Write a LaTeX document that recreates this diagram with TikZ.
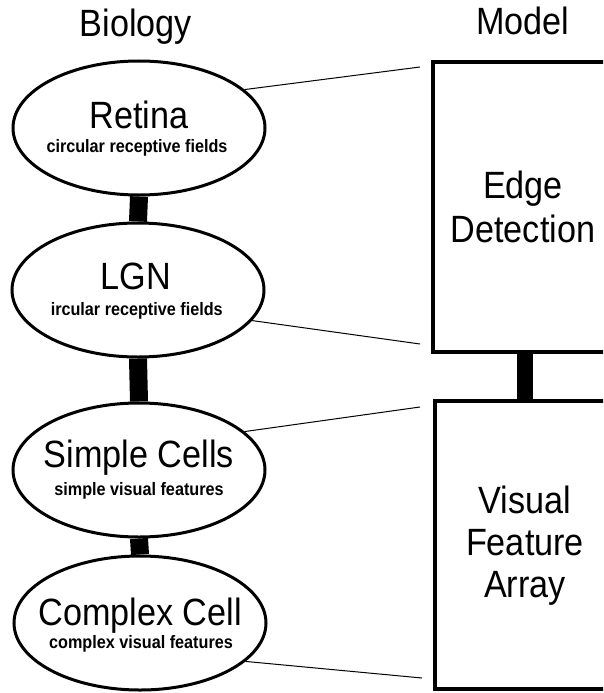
\documentclass[tikz,border=0pt]{standalone}
\usepackage{fontspec}
\setmainfont{Liberation Sans}[FakeStretch=0.9]
\usetikzlibrary{shapes.geometric}
\begin{document}
\begin{tikzpicture}[x=1pt,y=-1pt,
  bio/.style={draw=black,line width=3pt,ellipse,minimum width=252pt,minimum height=134pt,inner sep=0pt},
  modelbox/.style={draw=black,line width=4pt},
  big/.style={font=\fontsize{38}{42}\selectfont,anchor=base,inner sep=0pt},
  small/.style={font=\bfseries\fontsize{18}{20}\selectfont,anchor=base,inner sep=0pt},
  bar/.style={line width=18pt,draw=black},
  boxbar/.style={line width=16pt,draw=black},
  thin/.style={line width=1pt,draw=black}]
\useasboundingbox (0,0) rectangle (603,693);
\clip (0,0) rectangle (603,693);
\fill[white] (0,0) rectangle (603,693);

% titles
\node[big] (tbio) at (136,37) {Biology};
\node[big] (tmod) at (523,35) {Model};

% ellipses
\node[bio] (ret) at (139,128) {};
\node[bio] (lgn) at (138,290) {};
\node[bio] (sim) at (139,470) {};
\node[bio] (cpx) at (140,623) {};

\node[big] (retT) at (139,128) {Retina};
\node[small] (retS) at (137,152) {circular receptive fields};
\node[big] (lgnT) at (136,289) {LGN};
\node[small] (lgnS) at (139,315) {\hspace*{-0.25em}ircular receptive fields};
\node[big] (simT) at (139,467) {Simple Cells};
\node[small] (simS) at (139,495) {simple visual features};
\node[big] (cpxT) at (140,625) {Complex Cell};
\node[small] (cpxS) at (141,648) {complex visual features};

% bars between ellipses
\draw[bar] (ret.south) -- (lgn.north);
\draw[bar] (lgn.south) -- (sim.north);
\draw[bar] (sim.south) -- (cpx.north);

% model boxes
\draw[modelbox] (433,62) rectangle (625,352);
\draw[modelbox] (435,401) rectangle (625,689);
\coordinate (b1s) at (525,352);
\coordinate (b2n) at (525,401);
\draw[boxbar] (b1s) -- (b2n);

\node[big] (eT1) at (523,198) {Edge};
\node[big] (eT2) at (523,242) {Detection};
\node[big] (vT1) at (525,513) {Visual};
\node[big] (vT2) at (525,555) {Feature};
\node[big] (vT3) at (525,597) {Array};

% thin connectors
\coordinate (c1) at (420,67);
\coordinate (c2) at (420,344);
\coordinate (c3) at (420,407);
\coordinate (c4) at (422,678);
\draw[thin] (ret.20) -- (c1);
\draw[thin] (lgn.-15) -- (c2);
\draw[thin] (sim.20) -- (c3);
\draw[thin] (cpx.-20) -- (c4);
\end{tikzpicture}
\end{document}
